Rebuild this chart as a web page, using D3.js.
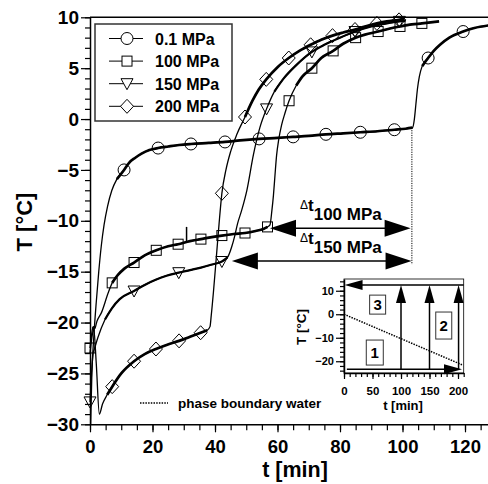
<!DOCTYPE html>
<html><head><meta charset="utf-8">
<script src="https://cdn.jsdelivr.net/npm/d3@7"></script>
<style>
body{margin:0;background:#fff;}
svg text{font-family:"Liberation Sans",Arial,sans-serif;font-weight:bold;fill:#000;}
</style></head><body>
<svg id="c" width="488" height="484"></svg>
<script>
// ---------- data ----------
const seriesNames = ["0.1 MPa", "100 MPa", "150 MPa", "200 MPa"];

const t01 = [0.2,0.6,1.2,2.0,2.8,3.6,4.5,5.6,7.0,8.6,10.9,12.5,14.5,16.5,19,21.8,25,28.5,32.3,38,43.2,48,54.1,60,65,70,75.5,81,86.5,92,97.4,101,103.2,103.8,104.3,104.8,105.4,106.3,108.2,110,112,115,119.4,123,127.5];
const T01 = [-30,-25,-21.5,-18,-15,-12.5,-10.4,-8.6,-7.0,-5.9,-5.0,-4.3,-3.8,-3.4,-3.05,-2.85,-2.7,-2.55,-2.45,-2.35,-2.25,-2.1,-1.95,-1.85,-1.75,-1.65,-1.5,-1.4,-1.3,-1.2,-1.05,-0.95,-0.85,0,1.5,3.0,4.2,5.2,6.0,6.7,7.3,8.0,8.6,8.95,9.2];

const t100 = [0,0.5,1.0,1.5,2.2,3.7,5.8,7.1,9,11,14.1,17.5,21.2,25,28.2,32,35.5,39,42.2,46,49.6,53,55.5,56.8,57.6,58.2,58.7,59.2,59.7,60.4,61.3,62.4,63.7,66,68,71,74,77.8,81,85,88,92.2,96,99.2,103,106.2,109,111.7];
const T100 = [-22.5,-21.2,-20.4,-20.6,-19.9,-19,-17.1,-16.1,-15.3,-14.7,-14.1,-13.4,-12.9,-12.5,-12.3,-12.0,-11.8,-11.6,-11.45,-11.3,-11.2,-11.0,-10.8,-10.6,-10.4,-9.0,-7.5,-5.5,-3.6,-2.0,-0.6,0.6,1.8,3.3,4.2,5.0,6.0,6.7,7.4,8.0,8.3,8.6,8.9,9.1,9.3,9.4,9.5,9.6];

const t150 = [0,0.5,1.0,1.4,2.5,4.8,7,9.5,14.1,17.5,21,24.5,28.4,32,35.5,39,42.2,44,45.4,46.3,47.2,48.5,50.2,52.3,54.4,56.5,59,62,66,71,75,80,84.8,90,95,99,101];
const T150 = [-27.8,-25,-23,-22.6,-21.5,-19.7,-18.6,-17.7,-16.9,-16.3,-15.8,-15.4,-15.1,-14.85,-14.6,-14.3,-14.0,-13.6,-12.5,-11.5,-10.3,-9.0,-7.0,-3.5,-0.8,1.0,2.7,4.0,5.3,6.6,7.3,8.0,8.6,9.1,9.4,9.6,9.7];

const t200 = [0,0.6,1.2,2.0,3.0,4.0,5.5,7.1,10,14.1,17.5,21.1,24.5,28.5,32,35.4,37.5,38.4,38.8,39.5,40.5,41.3,42.2,43.5,45,47,49.6,52,54,56.4,60,63.6,67,70.6,74,77.6,81,84.8,88,91.8,95,98.9,100.5];
const T200 = [-23,-21.5,-20.6,-24,-29,-28,-27.1,-26.3,-25,-23.8,-23.1,-22.6,-22.2,-21.8,-21.4,-21.0,-20.75,-20.4,-19.3,-17,-13.3,-10.3,-7.3,-5.0,-3.2,-1.5,0.2,1.8,2.9,3.9,5.1,6.0,6.7,7.3,7.8,8.2,8.5,8.8,9.1,9.4,9.6,9.75,9.85];

// marker positions
const m01t = [10.9,21.8,32.3,43.2,54.1,65,75.5,86.5,97.4,108.2,119.4];
const m01T = [-5.0,-2.85,-2.45,-2.25,-1.95,-1.75,-1.5,-1.3,-1.05,6.0,8.6];
const m100t = [0,7.1,14.1,21.2,28.2,35.5,42.2,49.6,56.8,63.7,71,77.8,85,92.2,99.2,106.2];
const m100T = [-22.5,-16.1,-14.1,-12.9,-12.3,-11.8,-11.45,-11.2,-10.6,1.8,5.0,6.7,8.0,8.6,9.1,9.4];
const m150t = [0,14.1,28.4,42.2,56.5,71,84.8,99];
const m150T = [-27.8,-16.9,-15.1,-14.0,1.0,6.6,8.6,9.6];
const m200t = [7.1,14.1,21.1,28.5,35.4,42.2,49.6,56.4,63.6,70.6,77.6,84.8,91.8,98.9];
const m200T = [-26.3,-23.8,-22.6,-21.8,-21.0,-7.3,0.2,3.9,6.0,7.3,8.2,8.8,9.4,9.75];

// axis ticks
const xTicks = [0,20,40,60,80,100,120];
const xMinorTicks = d3.range(0,130,5);
const yTicks = [-30,-25,-20,-15,-10,-5,0,5,10];
const yMinorTicks = d3.range(-30,11,1);

// annotations (data units)
const dtArrows = [ {label:"100 MPa", t0:57.6, t1:102.6, T:-10.74},
                   {label:"150 MPa", t0:45.4, t1:102.9, T:-13.95} ];
const phaseLine = {t:103, T0:-0.85, T1:-14.3};
const shortMark = {t:30.9, T0:-10.6, T1:-12.1};

// inset data
const insetXTicks = [0,50,100,150,200];
const insetXMinor = d3.range(0,211,10);
const insetYTicks = [-20,-10,0,10];
const insetYMinor = d3.range(-24,15,2);
const insetTop = 12.5, insetBottom = -23.4;
const insetUpArrows = [100,150,201];
const insetDotT = [0,207], insetDotT2 = [0,-21.5];
const insetBoxes = [ {n:"1", t:54, T:-16.3, w:17, h:25},
                     {n:"2", t:175, T:-4.8, w:16, h:27},
                     {n:"3", t:59, T:4.1, w:16, h:19} ];

// ---------- drawing ----------
const svg = d3.select("#c");
const x = d3.scaleLinear().domain([0,130]).range([90, 496.25]);
const y = d3.scaleLinear().domain([-30,10]).range([424.3, 17.3]);

function zip(a,b){ return a.map((v,i)=>[v,b[i]]); }
const series = [
  {name:seriesNames[0], d:zip(t01,T01), m:zip(m01t,m01T), sym:"circle", thick:2.7},
  {name:seriesNames[1], d:zip(t100,T100), m:zip(m100t,m100T), sym:"square", thick:2.7},
  {name:seriesNames[2], d:zip(t150,T150), m:zip(m150t,m150T), sym:"tri", thick:2.2},
  {name:seriesNames[3], d:zip(t200,T200), m:zip(m200t,m200T), sym:"diamond", thick:2.7}
];

// top frame line
svg.append("line").attr("x1",x(0)).attr("x2",488).attr("y1",y(10)).attr("y2",y(10))
  .attr("stroke","#000").attr("stroke-width",1.5);

// axes
function styleAxis(g, fs){
  g.selectAll("path.domain").attr("stroke","#000").attr("stroke-width",1.5);
  g.selectAll(".tick line").attr("stroke","#000").attr("stroke-width",1.2);
  g.selectAll("text").attr("font-size",fs).attr("font-family",null).attr("fill","#000");
}
const gxm = svg.append("g").attr("transform",`translate(0,${y(-30)})`)
  .call(d3.axisBottom(x).tickValues(xMinorTicks).tickSize(6).tickFormat(""));
gxm.select(".domain").remove();
styleAxis(gxm);
const gx = svg.append("g").attr("transform",`translate(0,${y(-30)})`)
  .call(d3.axisBottom(x).tickValues(xTicks).tickSize(8).tickPadding(8).tickSizeOuter(0));
styleAxis(gx, 18.5);

const gym = svg.append("g").attr("transform",`translate(${x(0)},0)`)
  .call(d3.axisLeft(y).tickValues(yMinorTicks).tickSize(5).tickFormat(""));
gym.select(".domain").remove();
styleAxis(gym);
const gy = svg.append("g").attr("transform",`translate(${x(0)},0)`)
  .call(d3.axisLeft(y).tickValues(yTicks).tickSize(9).tickPadding(2).tickSizeOuter(0));
styleAxis(gy, 19);

// axis titles
svg.append("text").attr("x",295).attr("y",477).attr("text-anchor","middle")
  .attr("font-size",21.5).text("t [min]");
svg.append("text").attr("transform","translate(32,222) rotate(-90)").attr("text-anchor","middle")
  .attr("font-size",22).text("T [°C]");

// curves
const line = d3.line().x(d=>x(d[0])).y(d=>y(d[1])).curve(d3.curveMonotoneX);
const plot = svg.append("g");
series.forEach(s=>{
  plot.append("path").attr("d",line(s.d)).attr("fill","none").attr("stroke","#000").attr("stroke-width",1.3);
  const flat = s.d.map((p,i)=>{
    const a = s.d[Math.max(0,i-1)], b = s.d[Math.min(s.d.length-1,i+1)];
    const sl = Math.abs(y(b[1])-y(a[1]))/Math.max(0.01,Math.abs(x(b[0])-x(a[0])));
    return sl < 2.2;
  });
  const thickLine = d3.line().defined((d,i)=>flat[i]).x(d=>x(d[0])).y(d=>y(d[1])).curve(d3.curveMonotoneX);
  plot.append("path").attr("d",thickLine(s.d)).attr("fill","none").attr("stroke","#000")
    .attr("stroke-width",s.thick).attr("stroke-linejoin","round");
});

// markers
function drawMarker(g, sym, cx, cy){
  let el;
  if(sym==="circle") el = g.append("circle").attr("cx",cx).attr("cy",cy).attr("r",6);
  else if(sym==="square") el = g.append("rect").attr("x",cx-5).attr("y",cy-5).attr("width",10).attr("height",10);
  else if(sym==="tri") el = g.append("path").attr("d",`M${cx-6},${cy-5}L${cx+6},${cy-5}L${cx},${cy+6}Z`);
  else el = g.append("path").attr("d",`M${cx},${cy-7}L${cx+6.5},${cy}L${cx},${cy+7}L${cx-6.5},${cy}Z`);
  el.attr("fill","none").attr("stroke","#000").attr("stroke-width",1);
  return el;
}
series.forEach(s=>{
  s.m.forEach(p=>drawMarker(plot, s.sym, x(p[0]), y(p[1])));
});

// short vertical mark
svg.append("line").attr("x1",x(shortMark.t)).attr("x2",x(shortMark.t))
  .attr("y1",y(shortMark.T0)).attr("y2",y(shortMark.T1)).attr("stroke","#000").attr("stroke-width",1.5);

// phase boundary dotted line
svg.append("line").attr("x1",x(phaseLine.t)).attr("x2",x(phaseLine.t))
  .attr("y1",y(phaseLine.T0)).attr("y2",y(phaseLine.T1))
  .attr("stroke","#000").attr("stroke-width",1).attr("stroke-dasharray","1.2,1.2");

// delta t arrows
function arrowHead(g, tipX, tipY, dir, len, hw){ // dir: 'l','r','u'
  let pts;
  if(dir==='l') pts=[[tipX,tipY],[tipX+len,tipY-hw],[tipX+len,tipY+hw]];
  else if(dir==='r') pts=[[tipX,tipY],[tipX-len,tipY-hw],[tipX-len,tipY+hw]];
  else pts=[[tipX,tipY],[tipX-hw,tipY+len],[tipX+hw,tipY+len]];
  g.append("polygon").attr("points",pts.map(p=>p.join(",")).join(" ")).attr("fill","#000");
}
dtArrows.forEach(a=>{
  const x0=x(a.t0), x1=x(a.t1), yy=y(a.T);
  svg.append("line").attr("x1",x0+20).attr("x2",x1-20).attr("y1",yy).attr("y2",yy)
    .attr("stroke","#000").attr("stroke-width",1.5);
  arrowHead(svg,x0,yy,'l',26,8.5);
  arrowHead(svg,x1,yy,'r',26,8.5);
  const lbl = svg.append("text").attr("x",300).attr("y",yy-19);
  lbl.append("tspan").attr("font-size",12).attr("font-weight","normal").text("Δ");
  lbl.append("tspan").attr("font-size",17).attr("dy",2).text("t");
  lbl.append("tspan").attr("font-size",17).attr("dy",9).text(a.label);
});

// phase boundary legend
svg.append("line").attr("x1",140).attr("x2",168).attr("y1",403).attr("y2",403)
  .attr("stroke","#000").attr("stroke-width",1.5).attr("stroke-dasharray","1.5,1.2");
svg.append("text").attr("x",178).attr("y",408).attr("font-size",13.5).text("phase boundary water");

// legend
const lg = svg.append("g");
lg.append("rect").attr("x",95).attr("y",24).attr("width",137).attr("height",97)
  .attr("fill","#fff").attr("stroke","#333").attr("stroke-width",1.5);
series.forEach((s,i)=>{
  const cy = 38.5 + i*22.6;
  lg.append("line").attr("x1",109).attr("x2",143).attr("y1",cy).attr("y2",cy).attr("stroke","#000").attr("stroke-width",1);
  const m = drawMarker(lg, s.sym, 127, cy);
  m.attr("fill","#fff");
  lg.append("text").attr("x",155).attr("y",cy+6).attr("font-size",16).text(s.name);
});

// ---------- inset ----------
const xi = d3.scaleLinear().domain([0,210]).range([344,463.7]);
const yi = d3.scaleLinear().domain([-25,15]).range([373,279]);
const ins = svg.append("g");
ins.append("rect").attr("x",xi(0)).attr("y",yi(15)).attr("width",xi(210)-xi(0)).attr("height",yi(-25)-yi(15))
  .attr("fill","#fff").attr("stroke","#000").attr("stroke-width",0.8);
const gixm = ins.append("g").attr("transform",`translate(0,${yi(-25)})`)
  .call(d3.axisBottom(xi).tickValues(insetXMinor).tickSize(4).tickFormat(""));
gixm.select(".domain").remove(); styleAxis(gixm);
const gix = ins.append("g").attr("transform",`translate(0,${yi(-25)})`)
  .call(d3.axisBottom(xi).tickValues(insetXTicks).tickSize(6).tickPadding(8).tickSizeOuter(0));
styleAxis(gix, 11.5);
const giym = ins.append("g").attr("transform",`translate(${xi(0)},0)`)
  .call(d3.axisLeft(yi).tickValues(insetYMinor).tickSize(4).tickFormat(""));
giym.select(".domain").remove(); styleAxis(giym);
const giy = ins.append("g").attr("transform",`translate(${xi(0)},0)`)
  .call(d3.axisLeft(yi).tickValues(insetYTicks).tickSize(8).tickPadding(2).tickSizeOuter(0));
styleAxis(giy, 11);
ins.append("text").attr("x",403).attr("y",410).attr("text-anchor","middle").attr("font-size",13).text("t [min]");
ins.append("text").attr("transform","translate(306,327) rotate(-90)").attr("text-anchor","middle")
  .attr("font-size",13.5).text("T [°C]");

// inset arrows
ins.append("line").attr("x1",xi(1)+15).attr("x2",xi(210)).attr("y1",yi(insetTop)).attr("y2",yi(insetTop))
  .attr("stroke","#000").attr("stroke-width",1.5);
arrowHead(ins, xi(1), yi(insetTop), 'l', 18, 5);
ins.append("line").attr("x1",xi(5)).attr("x2",xi(207)-15).attr("y1",yi(insetBottom)).attr("y2",yi(insetBottom))
  .attr("stroke","#000").attr("stroke-width",1.5);
arrowHead(ins, xi(207), yi(insetBottom), 'r', 18, 5);
insetUpArrows.forEach(t=>{
  ins.append("line").attr("x1",xi(t)).attr("x2",xi(t)).attr("y1",yi(insetBottom)).attr("y2",yi(insetTop)+15)
    .attr("stroke","#000").attr("stroke-width",1.5);
  arrowHead(ins, xi(t), yi(insetTop), 'u', 18, 5);
});
ins.append("line").attr("x1",xi(insetDotT[0])).attr("y1",yi(insetDotT2[0]))
  .attr("x2",xi(insetDotT[1])).attr("y2",yi(insetDotT2[1]))
  .attr("stroke","#000").attr("stroke-width",1.5).attr("stroke-dasharray","1.5,1.2");
insetBoxes.forEach(b=>{
  ins.append("rect").attr("x",xi(b.t)-b.w/2).attr("y",yi(b.T)-b.h/2).attr("width",b.w).attr("height",b.h)
    .attr("fill","#fff").attr("stroke","#333").attr("stroke-width",1);
  ins.append("text").attr("x",xi(b.t)).attr("y",yi(b.T)+5.5).attr("text-anchor","middle")
    .attr("font-size",15).text(b.n);
});
</script>
</body></html>
